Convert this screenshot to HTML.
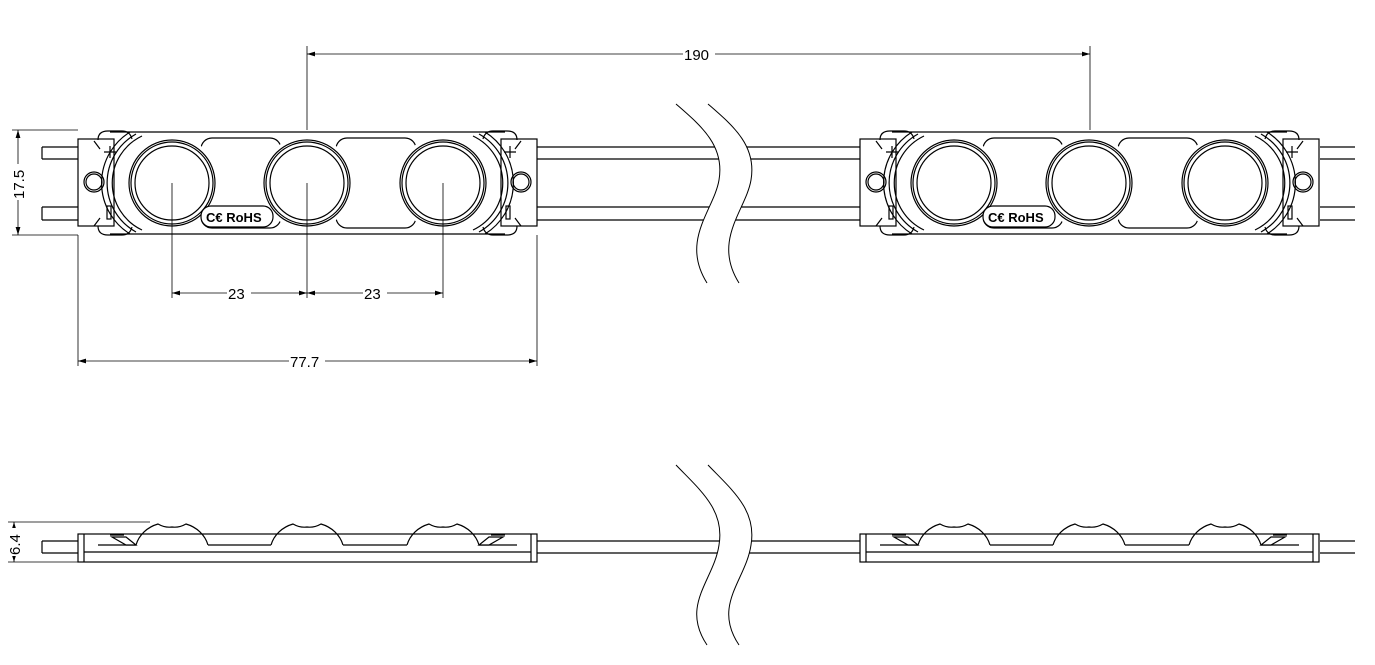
<!DOCTYPE html>
<html><head><meta charset="utf-8"><style>
html,body{margin:0;padding:0;background:#fff;}
svg{display:block;}
text{font-family:"Liberation Sans",Arial,sans-serif;}
</style></head><body>
<svg width="1375" height="665" viewBox="0 0 1375 665" xmlns="http://www.w3.org/2000/svg">
<defs>
<marker id="ar" viewBox="0 0 10 6" refX="10" refY="3" markerWidth="8" markerHeight="5" orient="auto-start-reverse" markerUnits="userSpaceOnUse"><path d="M0,0 L10,3 L0,6 z" fill="#000"/></marker>
<g id="mod" fill="none" stroke="#000" stroke-width="1.2">
  <rect x="0" y="139" width="36" height="87" fill="#fff"/>
  <rect x="423" y="139" width="36" height="87" fill="#fff"/>
  <path d="M32,132 H427 M32,234 H427"/>
  <path d="M52,132 A60,60 0 0 0 52,234" />
  <path d="M58,134 A56,56 0 0 0 58,232" />
  <path d="M64,136 A52,52 0 0 0 64,230" />
  <path d="M407,132 A60,60 0 0 1 407,234" />
  <path d="M401,134 A56,56 0 0 1 401,232" />
  <path d="M395,136 A52,52 0 0 1 395,230" />
  <path d="M20,140 q0,-9 10,-9 h14 q8,0 10,8 M20,226 q0,9 10,9 h14 q8,0 10,-8"/>
  <path d="M439,140 q0,-9 -10,-9 h-14 q-8,0 -10,8 M439,226 q0,9 -10,9 h-14 q-8,0 -10,-8"/>
  <path d="M22,149 l-6,-8 M22,218 l-6,8 M437,149 l6,-8 M437,218 l6,8"/>
  <path d="M26,152 h12 M32,146 v12 M432,146 v12 M426,152 h12"/>
  <rect x="29" y="206" width="4" height="13"/>
  <rect x="428" y="206" width="4" height="13"/>
  <circle cx="16" cy="182" r="10"/><circle cx="16" cy="182" r="8"/>
  <circle cx="443" cy="182" r="10"/><circle cx="443" cy="182" r="8"/>
  <rect x="123" y="138" width="80" height="90" rx="11"/>
  <rect x="258" y="138" width="80" height="90" rx="11"/>
  <circle cx="94" cy="183" r="47" fill="#fff" stroke="none"/>
  <circle cx="229" cy="183" r="47" fill="#fff" stroke="none"/>
  <circle cx="365" cy="183" r="47" fill="#fff" stroke="none"/>
  <circle cx="94" cy="183" r="43"/><circle cx="94" cy="183" r="41"/><circle cx="94" cy="183" r="37"/>
  <circle cx="229" cy="183" r="43"/><circle cx="229" cy="183" r="41"/><circle cx="229" cy="183" r="37"/>
  <circle cx="365" cy="183" r="43"/><circle cx="365" cy="183" r="41"/><circle cx="365" cy="183" r="37"/>
</g>
<g id="side" fill="none" stroke="#000" stroke-width="1.2">
  <rect x="0" y="534" width="459" height="28" fill="#fff"/>
  <path d="M6,534 V562 M453,534 V562 M6,552 H453"/>
  <path d="M58,545 A33,30 0 0 1 80,524 Q87,528 94,527 Q101,528 108,524 A33,30 0 0 1 130,545"/>
  <path d="M193,545 A33,30 0 0 1 215,524 Q222,528 229,527 Q236,528 243,524 A33,30 0 0 1 265,545"/>
  <path d="M329,545 A33,30 0 0 1 351,524 Q358,528 365,527 Q372,528 379,524 A33,30 0 0 1 401,545"/>
  <path d="M20,545 H58 M130,545 H193 M265,545 H329 M401,545 H439"/>
  <path d="M34,537 h14 l10,8 h-10 z M425,537 h-14 l-10,8 h10 z" fill="#fff"/>
  <path d="M32,535 h14 M427,535 h-14"/>
</g>
</defs>

<g fill="none" stroke="#000" stroke-width="1.2">
  <path d="M42,147 H78 M42,159 H78 M42,207 H78 M42,220 H78 M42,147 V159 M42,207 V220"/>
  <path d="M537,147 H860 M537,159 H860 M537,207 H860 M537,220 H860"/>
  <path d="M1320,147 H1355 M1320,159 H1355 M1320,207 H1355 M1320,220 H1355"/>
  <path d="M42,541 H78 M42,553 H78 M42,541 V553 M537,541 H860 M537,553 H860 M1320,541 H1355 M1320,553 H1355"/>
</g>
<use href="#mod" x="78" y="0"/>
<use href="#mod" x="860" y="0"/>
<use href="#side" x="78" y="0"/>
<use href="#side" x="860" y="0"/>

<g fill="#fff" stroke="none">
  <path d="M676,104 C700,125 725,145 719,180 C714,210 680,240 707,283 L739,283 C712,240 746,210 751,180 C757,145 732,125 708,104 Z"/>
  <path d="M676,465 C700,490 725,510 719,545 C714,580 680,605 707,645 L739,645 C712,605 746,580 751,545 C757,510 732,490 708,465 Z"/>
</g>
<g fill="none" stroke="#000" stroke-width="1">
  <path d="M676,104 C700,125 725,145 719,180 C714,210 680,240 707,283"/>
  <path d="M708,104 C732,125 757,145 751,180 C746,210 712,240 739,283"/>
  <path d="M676,465 C700,490 725,510 719,545 C714,580 680,605 707,645"/>
  <path d="M708,465 C732,490 757,510 751,545 C746,580 712,605 739,645"/>
</g>

<g font-size="13" font-weight="bold">
  <rect x="201" y="206" width="72" height="21" rx="10" fill="#fff" stroke="#000" stroke-width="1.2"/>
  <text x="206" y="222">C€ RoHS</text>
  <rect x="983" y="206" width="72" height="21" rx="10" fill="#fff" stroke="#000" stroke-width="1.2"/>
  <text x="988" y="222">C€ RoHS</text>
</g>

<g stroke="#000" stroke-width="0.8" fill="none">
  <path d="M307,46 V130 M1090,46 V130"/>
  <path d="M307,54 H1090" marker-start="url(#ar)" marker-end="url(#ar)"/>
  <path d="M12,130 H78 M12,235 H78"/>
  <path d="M18,130 V235" marker-start="url(#ar)" marker-end="url(#ar)"/>
  <path d="M172,183 V298 M307,183 V298 M443,183 V298"/>
  <path d="M172,293 H307" marker-start="url(#ar)" marker-end="url(#ar)"/>
  <path d="M307,293 H443" marker-start="url(#ar)" marker-end="url(#ar)"/>
  <path d="M78,235 V366 M537,235 V366"/>
  <path d="M78,361 H537" marker-start="url(#ar)" marker-end="url(#ar)"/>
  <path d="M8,522 H150 M8,562 H78"/>
  <path d="M14,522 V562" marker-start="url(#ar)" marker-end="url(#ar)"/>
</g>
<g font-size="15" fill="#000">
  <rect x="683" y="46" width="32" height="16" fill="#fff"/>
  <text x="684" y="60">190</text>
  <rect x="227" y="285" width="24" height="16" fill="#fff"/>
  <text x="228" y="299">23</text>
  <rect x="363" y="285" width="24" height="16" fill="#fff"/>
  <text x="364" y="299">23</text>
  <rect x="289" y="353" width="36" height="16" fill="#fff"/>
  <text x="290" y="367">77.7</text>
  <rect x="10" y="164" width="16" height="36" fill="#fff"/>
  <text transform="translate(24,199) rotate(-90)">17.5</text>
  <rect x="6" y="528" width="16" height="28" fill="#fff"/>
  <text transform="translate(20,555) rotate(-90)">6.4</text>
</g>
</svg>
</body></html>
